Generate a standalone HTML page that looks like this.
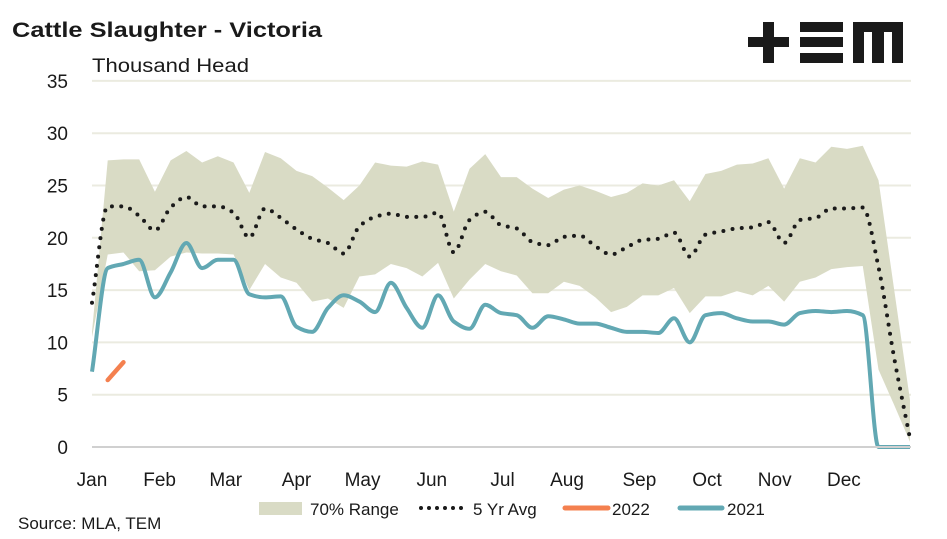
<!DOCTYPE html>
<html><head><meta charset="utf-8"><style>
body{margin:0;background:#fff;}
svg{display:block;font-family:"Liberation Sans",Arial,sans-serif;}
</style></head><body>
<svg id="chart" width="947" height="539" viewBox="0 0 947 539" xmlns="http://www.w3.org/2000/svg">
<text x="12" y="37" font-size="21" font-weight="bold" fill="#1a1a1a" textLength="310" lengthAdjust="spacingAndGlyphs">Cattle Slaughter - Victoria</text>
<text x="92" y="72" font-size="19" fill="#1a1a1a" textLength="157" lengthAdjust="spacingAndGlyphs">Thousand Head</text>
<g fill="#1a1a1a">
<rect x="748" y="37" width="41" height="10"/><rect x="763" y="22" width="11" height="41"/>
<rect x="800" y="22" width="43" height="10"/><rect x="800" y="37" width="43" height="10"/><rect x="800" y="53" width="43" height="10"/>
<rect x="853" y="22" width="50" height="10"/><rect x="853" y="22" width="11" height="41"/><rect x="872" y="22" width="12" height="41"/><rect x="892" y="22" width="11" height="41"/>
</g>
<g id="grid"></g><g id="plot"></g><g id="axes"></g>
<g font-size="17" fill="#1a1a1a">
<rect x="259" y="502" width="43" height="13" fill="#d9dbc5"/>
<text x="310" y="515">70% Range</text>
<line x1="421" y1="508" x2="462" y2="508" stroke="#1a1a1a" stroke-width="4" stroke-linecap="round" stroke-dasharray="0 8"/>
<text x="473" y="515">5 Yr Avg</text>
<line x1="565" y1="508" x2="608" y2="508" stroke="#f4804f" stroke-width="5" stroke-linecap="round"/>
<text x="612" y="515">2022</text>
<line x1="680" y1="508" x2="722" y2="508" stroke="#62a8b3" stroke-width="5" stroke-linecap="round"/>
<text x="727" y="515">2021</text>
</g>
<text x="18" y="529" font-size="17" fill="#1a1a1a">Source: MLA, TEM</text>
</svg>
<script>
const months=["Jan","Feb","Mar","Apr","May","Jun","Jul","Aug","Sep","Oct","Nov","Dec"];
const monthWeeks=[0,4.3,8.5,13,17.2,21.6,26.1,30.2,34.8,39.1,43.4,47.8];
const yTicks=[0,5,10,15,20,25,30,35];
const rangeUpper=[11,27.4,27.5,27.5,24.4,27.4,28.3,27.2,27.8,27.2,24.3,28.2,27.6,26.4,25.9,24.8,23.6,25.0,27.2,26.9,26.8,27.3,27.0,22.5,26.6,28.0,25.8,25.8,24.7,23.8,24.6,25.0,24.5,23.9,24.3,25.2,25.0,25.5,23.5,26.1,26.4,27.0,27.1,27.6,24.7,27.6,27.2,28.7,28.5,28.8,25.5,15,4.5];
const rangeLower=[10.5,18.4,18.6,16.8,16.9,18.2,18.6,18.5,18.5,18.4,15.0,17.5,16.2,15.7,13.9,14.2,13.3,16.3,16.5,17.5,17.1,16.3,17.6,14.2,16.0,17.5,16.8,16.4,14.7,14.7,15.8,15.4,14.3,12.9,13.4,14.5,14.5,15.2,12.8,14.4,14.4,14.9,14.5,15.4,13.9,15.8,16.2,17.0,17.2,17.3,7.4,4,0.5];
const avg5yr=[13.8,23.0,23.0,22.1,20.7,22.9,23.9,23.0,23.0,22.4,20.0,22.8,21.9,20.8,19.9,19.5,18.5,21.1,22.0,22.3,22.0,22.0,22.4,18.6,21.7,22.5,21.2,20.9,19.6,19.3,20.1,20.2,19.2,18.4,19.1,19.8,19.9,20.5,18.2,20.3,20.6,20.9,21.0,21.5,19.5,21.7,21.9,22.8,22.8,22.9,17.2,8.5,0.8];
const y2021=[7.2,17.1,17.5,17.9,14.3,16.7,19.5,17.1,17.9,17.9,14.6,14.3,14.4,11.5,11.0,13.3,14.5,13.9,12.9,15.7,13.3,11.4,14.5,12.0,11.3,13.6,12.8,12.6,11.4,12.5,12.2,11.8,11.8,11.4,11.0,11.0,10.9,12.3,10.0,12.6,12.8,12.3,12.0,12.0,11.7,12.8,13.0,12.9,13.0,12.6,0,0,0];
const y2022=[null,6.4,8.1];

const NS="http://www.w3.org/2000/svg";
const x0=92,dx=15.73,yBase=447,yScale=52.3/5;
function xs(w){return x0+w*dx;}
function ys(v){return yBase-v*yScale;}
function mk(tag,attrs,parent){const e=document.createElementNS(NS,tag);for(const k in attrs)e.setAttribute(k,attrs[k]);parent.appendChild(e);return e;}
function smooth(pts){
  const n=pts.length,h=pts[1][0]-pts[0][0];
  const d=[];for(let i=0;i<n-1;i++)d.push((pts[i+1][1]-pts[i][1])/h);
  const m=[];
  for(let i=0;i<n;i++){
    if(i===0)m.push(d[0]);else if(i===n-1)m.push(d[n-2]);
    else if(d[i-1]*d[i]<=0)m.push(0);
    else{const a=d[i-1],b=d[i];m.push(2*a*b/(a+b));}
  }
  let s="M"+pts[0][0].toFixed(1)+","+pts[0][1].toFixed(1);
  for(let i=0;i<n-1;i++){
    const p1=pts[i],p2=pts[i+1];
    s+=" C"+(p1[0]+h/3).toFixed(1)+","+(p1[1]+m[i]*h/3).toFixed(1)+" "+(p2[0]-h/3).toFixed(1)+","+(p2[1]-m[i+1]*h/3).toFixed(1)+" "+p2[0].toFixed(1)+","+p2[1].toFixed(1);
  }
  return s;
}
const grid=document.getElementById("grid"),plot=document.getElementById("plot"),axes=document.getElementById("axes");
yTicks.forEach(v=>{
  if(v>0){const g=mk("line",{x1:92,x2:911,y1:ys(v),y2:ys(v),stroke:"#ebebe0","stroke-width":2},grid);
  
  }
  const t=mk("text",{x:68,y:ys(v)+7,"font-size":19,fill:"#1a1a1a","text-anchor":"end"},axes);t.textContent=v;
  
  
});
const base=mk("line",{x1:92,x2:911,y1:yBase,y2:yBase,stroke:"#d0d0d0","stroke-width":2},axes);


months.forEach((m,i)=>{const t=mk("text",{x:xs(monthWeeks[i]),y:486,"font-size":19,fill:"#1a1a1a","text-anchor":"middle"},axes);t.textContent=m;
  
  });
let d="";rangeUpper.forEach((v,i)=>{d+=(i?"L":"M")+xs(i)+","+ys(v);});
for(let i=rangeLower.length-1;i>=0;i--)d+="L"+xs(i)+","+ys(rangeLower[i]);d+="Z";
const area=mk("path",{d:d,fill:"#d9dbc5"},plot);


const avg=mk("path",{d:smooth(avg5yr.map((v,i)=>[xs(i),ys(v)])),fill:"none",stroke:"#1a1a1a","stroke-width":4,"stroke-linecap":"round","stroke-dasharray":"0 9.3"},plot);


const l21=mk("path",{d:smooth(y2021.map((v,i)=>[xs(i),ys(v)])),fill:"none",stroke:"#62a8b3","stroke-width":4,"stroke-linejoin":"round"},plot);


const p22=[];y2022.forEach((v,i)=>{if(v!==null)p22.push([xs(i),ys(v)]);});
const l22=mk("path",{d:"M"+p22.map(p=>p.join(",")).join(" L"),fill:"none",stroke:"#f4804f","stroke-width":4.5,"stroke-linecap":"round"},plot);


</script>
</body></html>
